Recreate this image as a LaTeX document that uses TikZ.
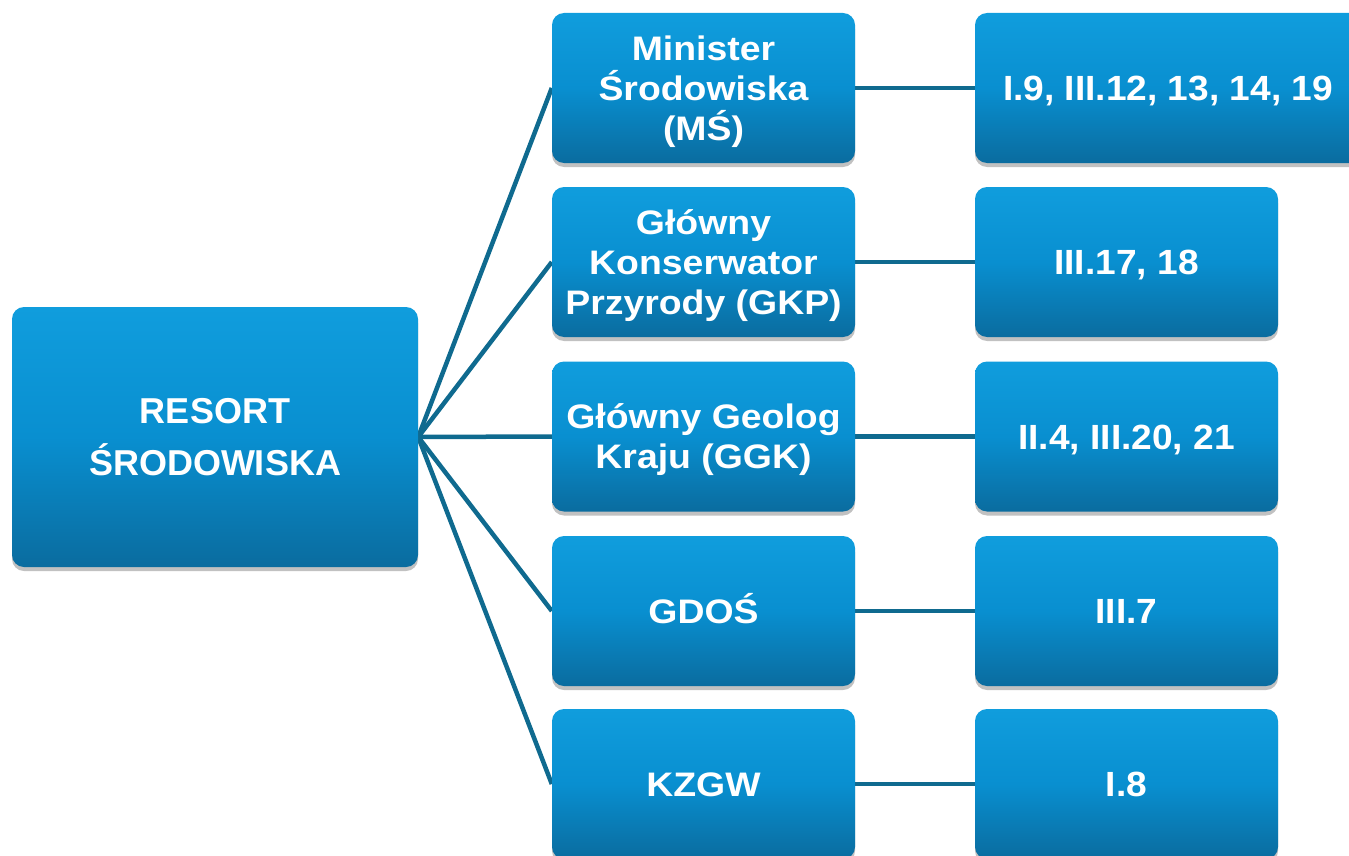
\documentclass[tikz,border=0pt]{standalone}
\usepackage{fontspec}
\setmainfont{Liberation Sans}
\newfontfamily\rootf{Liberation Sans}
\newfontfamily\midf{Liberation Sans}[FakeStretch=1.1]
\newfontfamily\rightf{Liberation Sans}[FakeStretch=1.06]
\usetikzlibrary{shadows,backgrounds}
\definecolor{boxtop}{HTML}{109DDD}
\definecolor{boxmid}{HTML}{098FD0}
\definecolor{boxbot}{HTML}{0A6C9F}
\definecolor{linec}{HTML}{0F6A8F}
\begin{document}
\begin{tikzpicture}[x=1pt,y=-1pt,
  box/.style={rectangle, rounded corners=12pt, top color=boxtop, bottom color=boxbot, middle color=boxmid,
    text=white, align=center, inner sep=0pt,
    drop shadow={shadow xshift=0pt, shadow yshift=-4pt, opacity=0.35, fill=black!70}},
  rootbox/.style={box, minimum width=406pt, minimum height=260pt, font=\rootf\bfseries\fontsize{36}{52}\selectfont},
  midbox/.style={box, minimum width=303pt, minimum height=150pt, text depth=0pt, font=\midf\bfseries\fontsize{34}{40}\selectfont},
  oneline/.style={text height=24.4pt, text depth=0pt},
  rightbox/.style={box, minimum width=303pt, minimum height=150pt, text height=25pt, text depth=0pt, font=\rightf\bfseries\fontsize{35}{40}\selectfont},
  conn/.style={draw=linec, line width=4.5pt}]
\useasboundingbox (0,0) rectangle (1349,856);
\node[rootbox] (root) at (215,437) {RESORT\\ŚRODOWISKA};
\node[midbox] (m1) at (703.5,88) {Minister\\Środowiska\\(MŚ)};
\node[midbox] (m2) at (703.5,262) {Główny\\Konserwator\\Przyrody (GKP)};
\node[midbox] (m3) at (703.5,436.5) {Główny Geolog\\Kraju (GGK)};
\node[midbox, oneline] (m4) at (703.5,611) {GDOŚ};
\node[midbox, oneline] (m5) at (703.5,784) {KZGW};
\node[rightbox, minimum width=386pt] (r1) at (1168,88) {I.9, III.12, 13, 14, 19};
\node[rightbox] (r2) at (1126.5,262) {III.17, 18};
\node[rightbox] (r3) at (1126.5,436.5) {II.4, III.20, 21};
\node[rightbox] (r4) at (1126.5,611) {III.7};
\node[rightbox] (r5) at (1126.5,784) {I.8};
\begin{scope}[on background layer]
\foreach \i in {1,...,5} {
  \draw[conn] (root.east) -- (m\i.west);
  \draw[conn] (m\i.east) -- (r\i.west);
}
\end{scope}
\end{tikzpicture}
\end{document}
